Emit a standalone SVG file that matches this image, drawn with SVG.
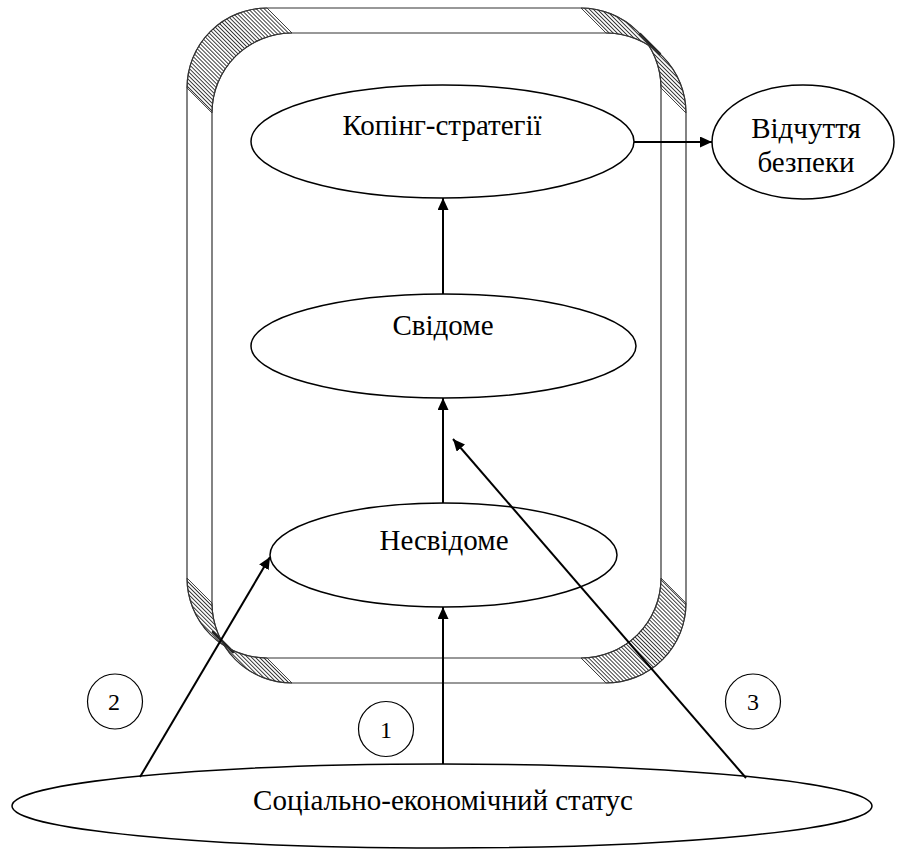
<svg xmlns="http://www.w3.org/2000/svg" width="897" height="850" viewBox="0 0 897 850">
<style>
.frame{fill:none;stroke:#333;stroke-width:1.2}
.hatch{fill:url(#hp);stroke:#222;stroke-width:0.8}
.dark{fill:none;stroke:#222;stroke-width:2.5;stroke-linecap:round}
.node{fill:#fff;stroke:#000;stroke-width:1.5}
.num{fill:none;stroke:#000;stroke-width:1.2}
.lbl{font-family:"Liberation Serif","Times New Roman","DejaVu Serif",serif;font-size:29px;fill:#000;text-anchor:middle}
.dig{font-family:"Liberation Serif","Times New Roman","DejaVu Serif",serif;font-size:24px;fill:#000;text-anchor:middle}
.conn{fill:none;stroke:#000;stroke-width:2;marker-end:url(#ah)}
</style>
<defs>
<pattern id="hp" patternUnits="userSpaceOnUse" width="10" height="2.8" patternTransform="rotate(45)">
<rect width="10" height="2.8" fill="#fff"/>
<line x1="0" y1="1.4" x2="10" y2="1.4" stroke="#222" stroke-width="0.9"/>
</pattern>
<marker id="ah" markerWidth="12" markerHeight="11" refX="12" refY="5.5" orient="auto" markerUnits="userSpaceOnUse">
<path d="M0,0 L12,5.5 L0,11 Z" fill="#000"/>
</marker>
</defs>
<g id="frame">
<path class="hatch" d="M187,88 A80,80 0 0 1 267,8 L292,33 A80,80 0 0 0 212,113 Z"/>
<path class="hatch" d="M581,8 A80,80 0 0 1 661,88 L686,113 A80,80 0 0 0 606,33 Z"/>
<path class="hatch" d="M661,578 A80,80 0 0 1 581,658 L606,683 A80,80 0 0 0 686,603 Z"/>
<path class="hatch" d="M187,578 A80,80 0 0 0 267,658 L292,683 A80,80 0 0 1 212,603 Z"/>
<path class="dark" d="M640,34 L660,54"/>
<path class="dark" d="M213,632 L233,652"/>
<rect class="frame" x="187" y="8" width="474" height="650" rx="80" ry="80"/>
<rect class="frame" x="212" y="33" width="474" height="650" rx="80" ry="80"/>
</g>
<g id="koping">
<ellipse class="node" cx="442.5" cy="141.5" rx="191.5" ry="56.5"/>
<text class="lbl" x="442" y="135">Копінг-стратегії</text>
</g>
<g id="vidchuttia">
<ellipse class="node" cx="803" cy="142" rx="91" ry="57"/>
<text class="lbl" x="806" y="138">Відчуття</text>
<text class="lbl" x="806" y="172">безпеки</text>
</g>
<g id="svidome">
<ellipse class="node" cx="443.5" cy="346" rx="192.5" ry="52"/>
<text class="lbl" x="443" y="335">Свідоме</text>
</g>
<g id="nesvidome">
<ellipse class="node" cx="443.5" cy="555" rx="173.5" ry="52"/>
<text class="lbl" x="444" y="550">Несвідоме</text>
</g>
<g id="status">
<ellipse class="node" cx="442" cy="806" rx="430" ry="42"/>
<text class="lbl" x="443" y="810">Соціально-економічний статус</text>
</g>
<g id="n1">
<circle class="num" cx="386" cy="729" r="27.5"/>
<text class="dig" x="386" y="738">1</text>
</g>
<g id="n2">
<circle class="num" cx="115" cy="701.5" r="27.5"/>
<text class="dig" x="114" y="710">2</text>
</g>
<g id="n3">
<circle class="num" cx="753" cy="701.5" r="27.5"/>
<text class="dig" x="753" y="710">3</text>
</g>
<g id="connectors">
<line class="conn" x1="634" y1="142" x2="712" y2="142"/>
<line class="conn" x1="443" y1="294" x2="443" y2="198"/>
<line class="conn" x1="443" y1="503" x2="443" y2="398"/>
<line class="conn" x1="443" y1="764" x2="443" y2="607"/>
<line class="conn" x1="140" y1="777" x2="270" y2="557"/>
<line class="conn" x1="746" y1="778" x2="453" y2="439"/>
</g>
</svg>
